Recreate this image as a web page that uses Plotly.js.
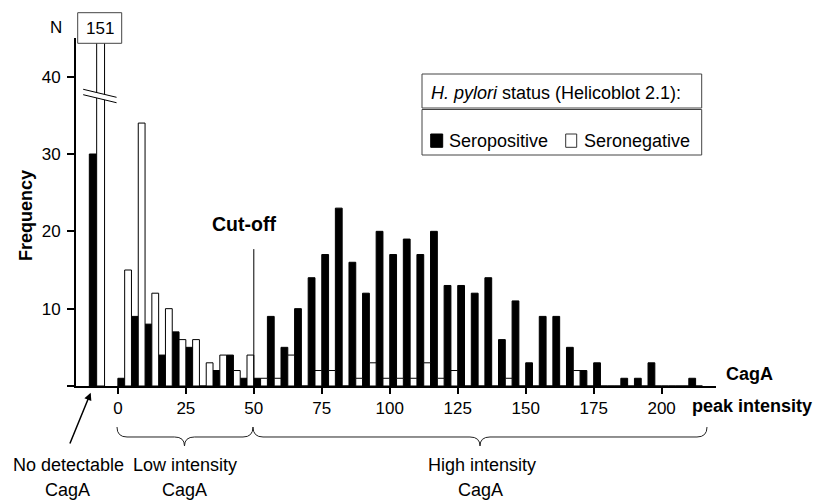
<!DOCTYPE html>
<html>
<head>
<meta charset="utf-8">
<script src="https://cdn.plot.ly/plotly-3.0.1.min.js"></script>
<style>html,body{margin:0;padding:0;background:#fff;}#chart{width:816px;height:501px;}</style>
</head>
<body>
<div id="chart"></div>
<script>
// ---- Data ----
const binStart = [0,5,10,15,20,25,30,35,40,45,50,55,60,65,70,75,80,85,90,95,100,105,110,115,120,125,130,135,140,145,150,155,160,165,170,175,180,185,190,195,200,205,210];
const seropositive = [1,9,8,4,7,5,0,2,4,1, 1,9,5,10,14,17,23,16,12,20, 17,19,17,20,13,13,12,14,6,11, 3,9,9,5,2,3,0,1,1,3, 0,0,1];
const seronegative = [15,34,12,10,6,6,3,4,2,4, 1,1,4,0,2,2,0,1,3,1, 1,1,3,1,2,0,0,0,1,0, 0,0,0,2,0,0,0,0,0,0, 0,0,0];
const noDetectSeropositive = 30;
const noDetectSeronegative = 151;
const seriesNames = ["Seropositive", "Seronegative"];
const xTickVals = [0,25,50,75,100,125,150,175,200];
const yTickVals = [0,10,20,30,40];
const yTickText = ["","10","20","30","40"];
const cutOff = 50;

// ---- Layout helpers ----
const L = 76, T = 38, W = 640, H = 348;
const px = x => (x - L) / W;
const py = y => (T + H - y) / H;
const FONT = "Liberation Sans, Arial, sans-serif";
const noDetPos = -10.5;

const binW = 2.5;
const posX = [noDetPos].concat(binStart);
const negX = [noDetPos].concat(binStart);
const posY = [noDetectSeropositive].concat(seropositive);
const negY = [noDetectSeronegative].concat(seronegative);
const posW = [2.7].concat(binStart.map(() => binW));
const negW = [2.9].concat(binStart.map(() => binW));
const negOff = [2.7].concat(binStart.map(() => binW));

const traces = [
  {type:"bar", name:seriesNames[0], x:posX, y:posY, width:posW, offset:0,
   marker:{color:"#000", line:{color:"#000", width:1}}, hoverinfo:"skip"},
  {type:"bar", name:seriesNames[1], x:negX, y:negY, width:negW, offset:negOff,
   marker:{color:"#fff", line:{color:"#000", width:1}}, hoverinfo:"skip"}
];

function bracePath(x0, xm, x1, yTop, yMid, yTip) {
  const c = 10;
  const P = (x, y) => px(x).toFixed(5) + "," + py(y).toFixed(5);
  return "M" + P(x0, yTop) + " Q" + P(x0, yMid) + " " + P(x0 + c, yMid) +
    " L" + P(xm - c, yMid) + " Q" + P(xm, yMid) + " " + P(xm, yTip) +
    " Q" + P(xm, yMid) + " " + P(xm + c, yMid) +
    " L" + P(x1 - c, yMid) + " Q" + P(x1, yMid) + " " + P(x1, yTop);
}

const shapes = [
  // cut-off line
  {type:"line", xref:"x", yref:"y", x0:cutOff, x1:cutOff, y0:0, y1:17.7, line:{color:"#000", width:1}},
  // axis break
  {type:"path", xref:"x", yref:"y", path:"M-12.76,38.37 L-0.48,37.33 L-0.48,36.63 L-12.76,37.67 Z",
   fillcolor:"#fff", line:{width:0}},
  {type:"line", xref:"x", yref:"y", x0:-12.76, y0:38.37, x1:-0.48, y1:37.33, line:{color:"#000", width:1}},
  {type:"line", xref:"x", yref:"y", x0:-12.76, y0:37.67, x1:-0.48, y1:36.63, line:{color:"#000", width:1}},
  // 151 box
  {type:"rect", xref:"paper", yref:"paper", x0:px(77.7), x1:px(121.7), y0:py(43.3), y1:py(12.7),
   fillcolor:"#fff", line:{color:"#444", width:1}},
  // legend boxes
  {type:"rect", xref:"paper", yref:"paper", x0:px(422), x1:px(701.7), y0:py(108), y1:py(74),
   fillcolor:"#fff", line:{color:"#444", width:1}},
  {type:"rect", xref:"paper", yref:"paper", x0:px(422), x1:px(701.7), y0:py(155), y1:py(109.5),
   fillcolor:"#fff", line:{color:"#444", width:1}},
  {type:"rect", xref:"paper", yref:"paper", x0:px(430.7), x1:px(442.7), y0:py(147.3), y1:py(134),
   fillcolor:"#000", line:{color:"#000", width:1}},
  {type:"rect", xref:"paper", yref:"paper", x0:px(565.7), x1:px(576.7), y0:py(147.3), y1:py(134),
   fillcolor:"#fff", line:{color:"#333", width:1}},
  // braces
  {type:"path", xref:"paper", yref:"paper", path:bracePath(117, 184.5, 253, 427, 437, 446), line:{color:"#222", width:1}},
  {type:"path", xref:"paper", yref:"paper", path:bracePath(253, 480, 707, 427, 437, 446), line:{color:"#222", width:1}}
];

const ann = (x, y, text, opts) => Object.assign({xref:"paper", yref:"paper", x:px(x), y:py(y), text:text,
  showarrow:false, xanchor:"center", yanchor:"middle", font:{family:FONT, size:18, color:"#000"}}, opts || {});

const annotations = [
  ann(56, 27.5, "N", {font:{family:FONT, size:17, color:"#000"}}),
  ann(99.7, 28.5, String(noDetectSeronegative), {font:{family:FONT, size:17, color:"#000"}}),
  ann(26, 216, "<b>Frequency</b>", {textangle:-90}),
  ann(244, 223.5, "<b>Cut-off</b>", {font:{family:FONT, size:19.5, color:"#000"}}),
  ann(749.5, 374, "<b>CagA</b>"),
  ann(752.3, 405.5, "<b>peak intensity</b>"),
  ann(429, 93, "<i>H. pylori</i> status (Helicoblot 2.1):", {xanchor:"left"}),
  ann(447, 140.5, seriesNames[0], {xanchor:"left"}),
  ann(581.5, 140.5, seriesNames[1], {xanchor:"left"}),
  ann(68, 465, "No detectable"),
  ann(67.5, 490, "CagA"),
  ann(185, 465, "Low intensity"),
  ann(184, 490, "CagA"),
  ann(482, 465, "High intensity"),
  ann(480, 490, "CagA"),
  {xref:"paper", yref:"paper", x:px(90.7), y:py(392.7), text:"", showarrow:true,
   ax:-21.4, ay:52.3, arrowhead:2, arrowsize:1, arrowwidth:1.5, arrowcolor:"#000", standoff:0}
];

const layout = {
  width:816, height:501,
  margin:{l:L, r:816 - L - W, t:T, b:501 - T - H, pad:0},
  paper_bgcolor:"#fff", plot_bgcolor:"#fff",
  showlegend:false, barmode:"overlay",
  font:{family:FONT, size:17, color:"#000"},
  xaxis:{range:[-15.4, 220], tickvals:xTickVals, ticks:"outside", ticklen:6, tickwidth:2, tickcolor:"#000",
         showline:true, linewidth:2, linecolor:"#000", showgrid:false, zeroline:false,
         tickfont:{family:FONT, size:17, color:"#000"}, fixedrange:true},
  yaxis:{range:[0, 45], tickvals:yTickVals, ticktext:yTickText, ticks:"outside", ticklen:7, tickwidth:2, tickcolor:"#000",
         showline:true, linewidth:2, linecolor:"#000", showgrid:false, zeroline:false, ticklabelstandoff:3,
         tickfont:{family:FONT, size:17, color:"#000"}, fixedrange:true},
  shapes:shapes,
  annotations:annotations
};

Plotly.newPlot("chart", traces, layout, {displayModeBar:false, staticPlot:true});
</script>
</body>
</html>
